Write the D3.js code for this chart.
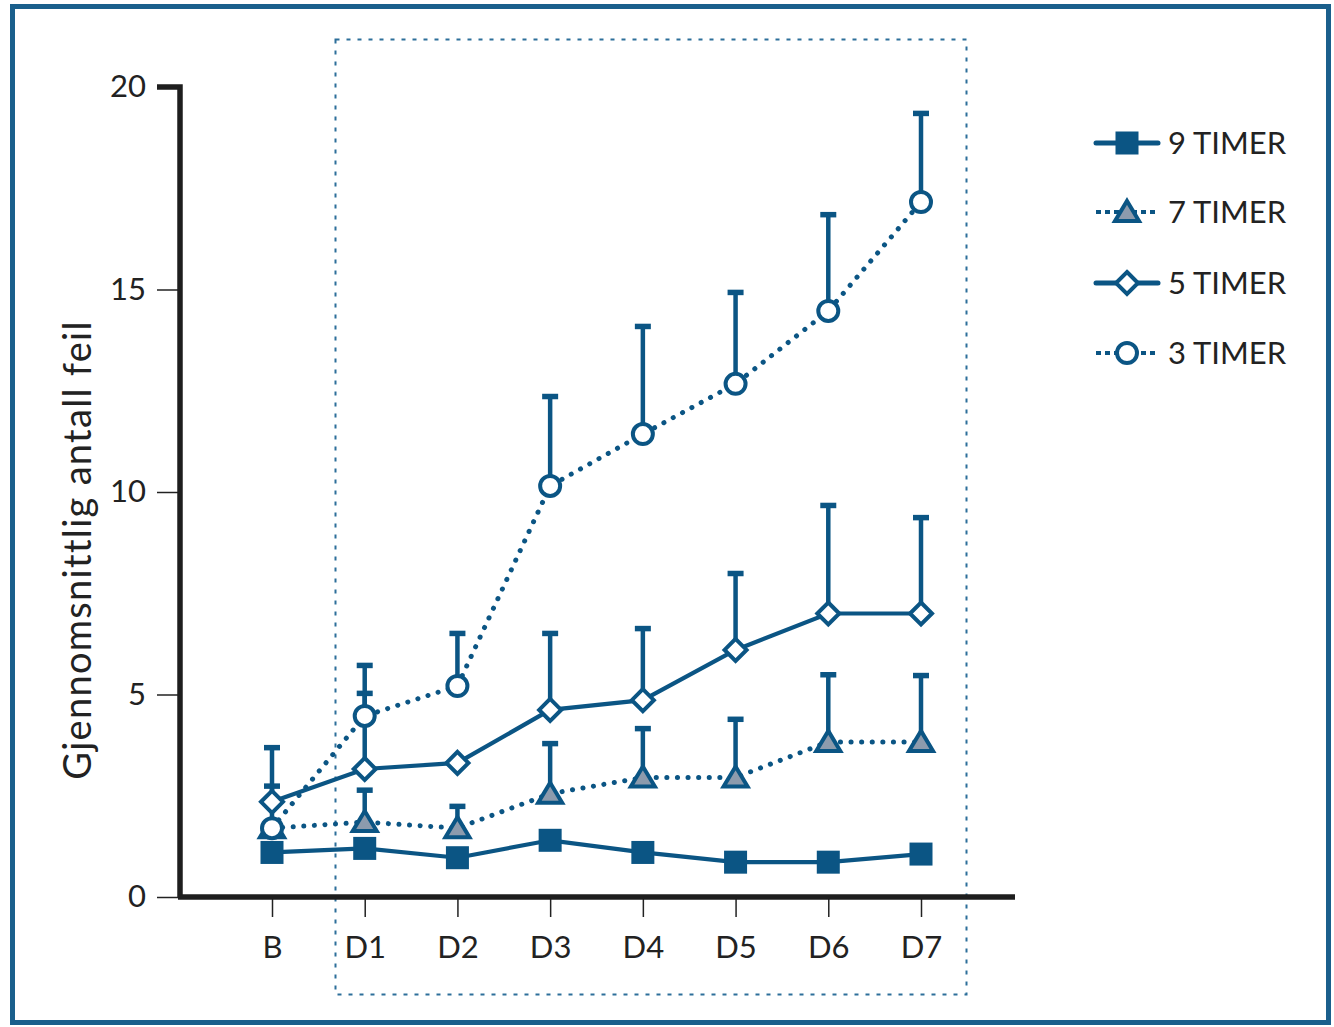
<!DOCTYPE html>
<html>
<head>
<meta charset="utf-8">
<script src="https://cdn.jsdelivr.net/npm/d3@7"></script>
<style>
  html, body { margin: 0; padding: 0; background: #fff; }
  svg { display: block; }
  text { font-family: Lato, "Open Sans", sans-serif; fill: #222; }
</style>
</head>
<body>
<svg id="chart" width="1334" height="1027"></svg>
<script>
// Days: baseline plus seven days of restricted sleep
const categories = ["B", "D1", "D2", "D3", "D4", "D5", "D6", "D7"];

// Mean number of errors per group (hours of sleep per night)
const timer9 = [1.1, 1.2, 0.97, 1.4, 1.1, 0.86, 0.86, 1.06];
const timer7 = [1.7, 1.85, 1.7, 2.55, 2.95, 2.95, 3.83, 3.83];
const timer5 = [2.35, 3.16, 3.31, 4.62, 4.86, 6.1, 7.0, 7.0];
const timer3 = [1.7, 4.47, 5.21, 10.15, 11.43, 12.67, 14.47, 17.16];

// Upper end of each error bar (null = no bar drawn)
const timer7Upper = [null, 2.65, 2.25, 3.8, 4.17, 4.4, 5.5, 5.48];
const timer5Upper = [3.7, 5.04, null, 6.52, 6.64, 8.0, 9.68, 9.38];
const timer3Upper = [2.75, 5.73, 6.52, 12.37, 14.1, 14.94, 16.86, 19.36];

const yTicks = [0, 5, 10, 15, 20];
const seriesNames = ["9 TIMER", "7 TIMER", "5 TIMER", "3 TIMER"];
const yTitle = "Gjennomsnittlig antall feil";

const blue = "#0b5584";
const grey = "#8d9bad";

const svg = d3.select("#chart");

// outer frame
svg.append("rect")
  .attr("x", 12.5).attr("y", 6.5).attr("width", 1316).attr("height", 1016)
  .attr("fill", "none").attr("stroke", "#1a5f8c").attr("stroke-width", 5);

const x = d3.scalePoint().domain(categories).range([272, 921]);
const y = d3.scaleLinear().domain([0, 20]).range([897, 87]);

// dotted box around the sleep-restriction days
svg.append("rect")
  .attr("x", 335.5).attr("y", 39.5).attr("width", 631).attr("height", 955)
  .attr("fill", "none").attr("stroke", "#2d6f9a").attr("stroke-width", 2)
  .attr("stroke-dasharray", "4 7");

// y axis
const yAxis = d3.axisLeft(y).tickValues(yTicks).tickSize(23).tickPadding(11).tickSizeOuter(0);
const gy = svg.append("g").attr("transform", "translate(180,0)").call(yAxis);
gy.select(".domain").remove();
gy.selectAll(".tick line").attr("stroke", "#222").attr("stroke-width", 1.5);
gy.selectAll(".tick text").attr("font-size", 31).attr("fill", "#222")
  .attr("font-family", "Lato, sans-serif");
// thick axis spine with cap at the top
svg.append("path")
  .attr("d", `M157,${y(20)} H180 V${y(0)}`)
  .attr("fill", "none").attr("stroke", "#1e1e1e").attr("stroke-width", 5.5);

// x axis
const xAxis = d3.axisBottom(x).tickSize(20).tickPadding(19).tickSizeOuter(0);
const gx = svg.append("g").attr("transform", `translate(0,${y(0)})`).call(xAxis);
gx.select(".domain").remove();
gx.selectAll(".tick line").attr("stroke", "#222").attr("stroke-width", 1.5);
gx.selectAll(".tick text").attr("font-size", 31).attr("fill", "#222")
  .attr("font-family", "Lato, sans-serif");
svg.append("line")
  .attr("x1", 178).attr("x2", 1015).attr("y1", y(0)).attr("y2", y(0))
  .attr("stroke", "#1e1e1e").attr("stroke-width", 5.5);

// y axis title
svg.append("text")
  .attr("transform", `translate(91,${(y(0) + y(20)) / 2 + 58}) rotate(-90)`)
  .attr("text-anchor", "middle").attr("font-size", 38).attr("letter-spacing", 1.3)
  .text(yTitle);

const series = [
  { name: seriesNames[0], values: timer9, upper: null, dotted: false, marker: "square" },
  { name: seriesNames[1], values: timer7, upper: timer7Upper, dotted: true, marker: "triangle" },
  { name: seriesNames[2], values: timer5, upper: timer5Upper, dotted: false, marker: "diamond" },
  { name: seriesNames[3], values: timer3, upper: timer3Upper, dotted: true, marker: "circle" }
];

// error bars (upper half only)
const gErr = svg.append("g");
series.forEach(s => {
  if (!s.upper) return;
  s.upper.forEach((u, i) => {
    if (u == null) return;
    const cx = x(categories[i]);
    gErr.append("line")
      .attr("x1", cx).attr("x2", cx).attr("y1", y(s.values[i])).attr("y2", y(u))
      .attr("stroke", blue).attr("stroke-width", 4.5);
    gErr.append("line")
      .attr("x1", cx - 8).attr("x2", cx + 8).attr("y1", y(u) + 0.5).attr("y2", y(u) + 0.5)
      .attr("stroke", blue).attr("stroke-width", 5.5);
  });
});

// connecting lines
const line = d3.line().x((d, i) => x(categories[i])).y(d => y(d));
const gLines = svg.append("g");
series.forEach(s => {
  const p = gLines.append("path").datum(s.values)
    .attr("d", line).attr("fill", "none").attr("stroke", blue);
  if (s.dotted) {
    p.attr("stroke-width", 5).attr("stroke-linecap", "round").attr("stroke-dasharray", "0.1 10.5");
  } else {
    p.attr("stroke-width", 4.2);
  }
});

// marker shapes
function drawMarker(g, type, cx, cy, scale = 1) {
  if (type === "square") {
    const s = 23 * scale;
    g.append("rect").attr("x", cx - s / 2).attr("y", cy - s / 2).attr("width", s).attr("height", s)
      .attr("fill", blue);
  } else if (type === "triangle") {
    const w = 11 * scale, h = 10 * scale;
    g.append("path")
      .attr("d", `M${cx},${cy - h - 1} L${cx + w + 1},${cy + h - 1} L${cx - w - 1},${cy + h - 1} Z`)
      .attr("fill", grey).attr("stroke", blue).attr("stroke-width", 4).attr("stroke-linejoin", "miter");
  } else if (type === "diamond") {
    const r = 11 * scale;
    g.append("path")
      .attr("d", `M${cx},${cy - r} L${cx + r},${cy} L${cx},${cy + r} L${cx - r},${cy} Z`)
      .attr("fill", "#fff").attr("stroke", blue).attr("stroke-width", 4);
  } else {
    g.append("circle").attr("cx", cx).attr("cy", cy).attr("r", 10 * scale)
      .attr("fill", "#fff").attr("stroke", blue).attr("stroke-width", 4);
  }
}

const gMarks = svg.append("g");
series.forEach(s => {
  s.values.forEach((v, i) => drawMarker(gMarks, s.marker, x(categories[i]), y(v)));
});

// legend
const legendRows = [143, 212, 283, 353];
const gLeg = svg.append("g");
series.forEach((s, k) => {
  const ly = legendRows[k];
  const l = gLeg.append("line").attr("x1", 1096).attr("x2", 1158).attr("y1", ly).attr("y2", ly)
    .attr("stroke", blue);
  if (s.dotted) {
    l.attr("stroke-width", 4).attr("stroke-dasharray", "5 4");
  } else {
    l.attr("stroke-width", 5).attr("stroke-linecap", "round");
  }
  drawMarker(gLeg, s.marker, 1127, ly, 1);
  gLeg.append("text").attr("x", 1168).attr("y", ly + 11).attr("font-size", 31)
    .text(s.name);
});
</script>
</body>
</html>
